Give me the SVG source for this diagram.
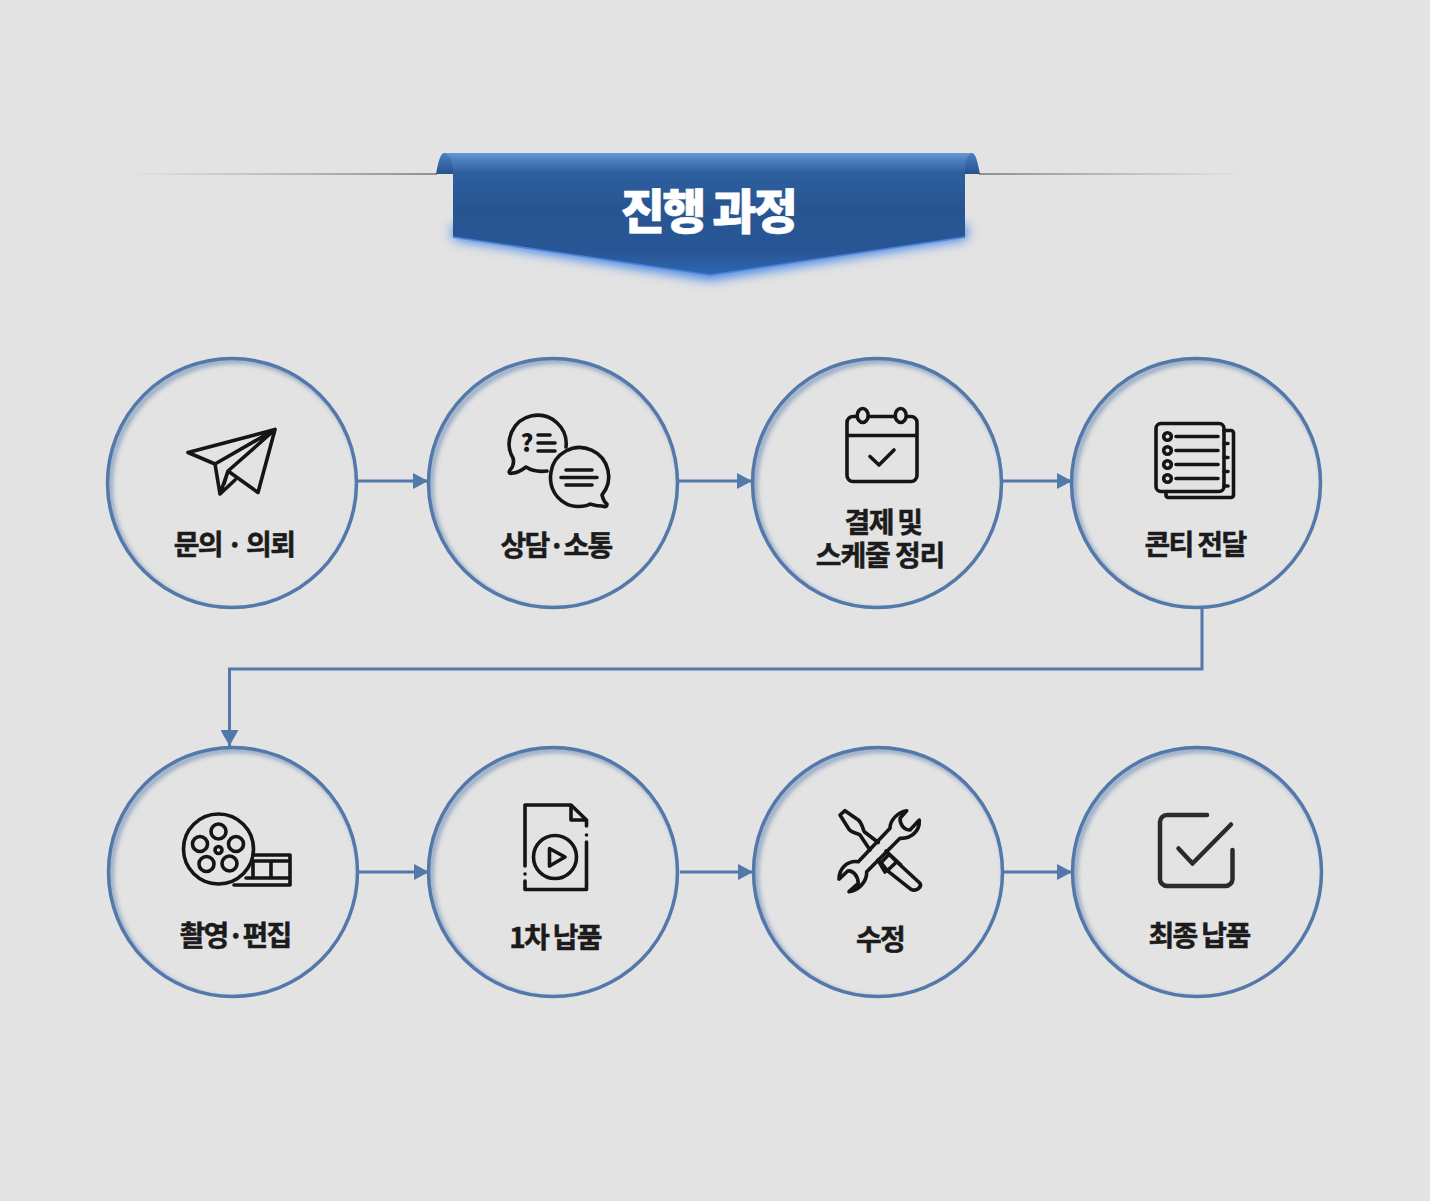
<svg xmlns="http://www.w3.org/2000/svg" width="1430" height="1201" viewBox="0 0 1430 1201">
<style>
.lbl{font-family:"Noto Sans CJK KR","Noto Sans",sans-serif;font-weight:700;font-size:28px;letter-spacing:-1.7px;fill:#1b1b1b;stroke:#1b1b1b;stroke-width:.5px;text-anchor:middle}
.ring{fill:none;stroke:#5378aa;stroke-width:3.5}
.glow{fill:none;stroke:#5378aa;stroke-width:4;filter:url(#b4);opacity:.75}
.ic{fill:none;stroke:#151515;stroke-width:3.6;stroke-linecap:round;stroke-linejoin:round}
.cn{fill:none;stroke:#5378aa;stroke-width:3}
</style>
<defs>
<filter id="b4" x="-20%" y="-20%" width="140%" height="140%"><feGaussianBlur stdDeviation="2.5"/></filter>
<filter id="b8" x="-20%" y="-50%" width="140%" height="200%"><feGaussianBlur stdDeviation="6"/></filter>
<marker id="ar" markerUnits="userSpaceOnUse" markerWidth="16" markerHeight="18" refX="15" refY="8" orient="auto"><path d="M0 0L15 8L0 16Z" fill="#5378aa"/></marker>
<marker id="ard" markerUnits="userSpaceOnUse" markerWidth="20" markerHeight="18" refX="16" refY="9" orient="auto"><path d="M0 0L16 9L0 18Z" fill="#5378aa"/></marker>
<linearGradient id="ll" x1="0" x2="1" y1="0" y2="0"><stop offset="0" stop-color="#9a9a9a" stop-opacity="0"/><stop offset="1" stop-color="#8f8f8f"/></linearGradient>
<linearGradient id="lr" x1="1" x2="0" y1="0" y2="0"><stop offset="0" stop-color="#9a9a9a" stop-opacity="0"/><stop offset="1" stop-color="#8f8f8f"/></linearGradient>
<linearGradient id="rib" x1="0" x2="0" y1="153" y2="276" gradientUnits="userSpaceOnUse"><stop offset="0" stop-color="#6a98d6"/><stop offset=".05" stop-color="#4f82c4"/><stop offset=".16" stop-color="#2d5f9e"/><stop offset=".45" stop-color="#285592"/><stop offset=".8" stop-color="#285694"/><stop offset="1" stop-color="#2f68b4"/></linearGradient>
<linearGradient id="curl" x1="0" x2="0" y1="153" y2="175" gradientUnits="userSpaceOnUse"><stop offset="0" stop-color="#4a80c4"/><stop offset="1" stop-color="#24508c"/></linearGradient>
<clipPath id="c1"><circle cx="232" cy="483" r="124"/></clipPath>
<clipPath id="c2"><circle cx="553" cy="483" r="124"/></clipPath>
<clipPath id="c3"><circle cx="877" cy="483" r="124"/></clipPath>
<clipPath id="c4"><circle cx="1196" cy="483" r="124"/></clipPath>
<clipPath id="c5"><circle cx="233" cy="872" r="124"/></clipPath>
<clipPath id="c6"><circle cx="553" cy="872" r="124"/></clipPath>
<clipPath id="c7"><circle cx="878" cy="872" r="124"/></clipPath>
<clipPath id="c8"><circle cx="1197" cy="872" r="124"/></clipPath>
</defs>
<rect width="1430" height="1201" fill="#e3e3e3"/>

<g id="title">
<rect x="125" y="173" width="312" height="2" fill="url(#ll)"/>
<rect x="979" y="173" width="266" height="2" fill="url(#lr)"/>
<path d="M436 174C438 164 440 153 444 153L456 153V174Z" fill="url(#curl)"/>
<path d="M980 174C978 164 976 153 972 153L960 153V174Z" fill="url(#curl)"/>
<path d="M453 239L710 280L967 239V225H453Z" fill="#3f82e8" filter="url(#b8)"/>
<path d="M968 170V238" stroke="#8a9ab0" stroke-width="4" filter="url(#b4)" opacity=".4"/>
<path d="M444 153H972C967 155 965 160 965 170V237L710 275L453 237V170C453 160 449 155 444 153Z" fill="url(#rib)"/>
<path d="M453 237L710 275L965 237" fill="none" stroke="#4a82d6" stroke-width="1.500"/>
<text x="708" y="229" text-anchor="middle" style="font-family:'Noto Sans CJK KR','Noto Sans',sans-serif;font-weight:900;font-size:48px;letter-spacing:-2.6px;fill:#fff;stroke:#fff;stroke-width:.6px">진행 과정</text>
</g>

<g id="connectors">
<path class="cn" d="M358 481H428" marker-end="url(#ar)"/>
<path class="cn" d="M679 481H752" marker-end="url(#ar)"/>
<path class="cn" d="M1003 481H1072" marker-end="url(#ar)"/>
<path class="cn" d="M1202 607V669H229.500V746" marker-end="url(#ard)"/>
<path class="cn" d="M359 872H429" marker-end="url(#ar)"/>
<path class="cn" d="M680 872H753" marker-end="url(#ar)"/>
<path class="cn" d="M1004 872H1072" marker-end="url(#ar)"/>
</g>

<g id="node1">
<g clip-path="url(#c1)"><circle class="glow" cx="235" cy="486" r="125"/></g>
<circle class="ring" cx="232" cy="483" r="124.500"/>
<path class="ic" d="M275 429.500L188 452.500L215 464L220 494L235 480M275 429.500L258 492.500L228 471M275 429.500L215 464M275 429.500L228 471L224 484M228 471L220 494"/>
<text class="lbl" x="234" y="555">문의 · 의뢰</text>
</g>

<g id="node2">
<g clip-path="url(#c2)"><circle class="glow" cx="556" cy="486" r="125"/></g>
<circle class="ring" cx="553" cy="483" r="124.500"/>
<path class="ic" d="M566 447A28.500 28.500 0 1 0 513 458C514 462 514 466 510 470C508 473 510 474 513 473C518 473 522 470 526 467C532 471 539 472 547 471"/>
<path class="ic" d="M590 504C585 507 573 508 565 503C553 496 549 484 551 472A29 29 0 1 1 602 495C603 499 604 502 607 504C607 507 605 507 602 506C597 506 594 505 590 504Z"/>
<path class="ic" d="M538 435H550M538 443H555M538 451H555M566 470H592M561 477.500H597M566 485H592"/>
<text x="527" y="452" style="font-family:'Noto Sans CJK KR',sans-serif;font-weight:900;font-size:24px;fill:#151515" text-anchor="middle">?</text>
<text class="lbl" x="556" y="556">상담·소통</text>
</g>

<g id="node3">
<g clip-path="url(#c3)"><circle class="glow" cx="880" cy="486" r="125"/></g>
<circle class="ring" cx="877" cy="483" r="124.500"/>
<path class="ic" d="M856 416.500H853A6 6 0 0 0 847 422.500V475.500A6 6 0 0 0 853 481.500H911A6 6 0 0 0 917 475.500V422.500A6 6 0 0 0 911 416.500H908M869 416.500H894M847 435.500H917M870 456.500L879 465L894 450"/>
<ellipse class="ic" cx="862.700" cy="415.500" rx="5.500" ry="7"/>
<ellipse class="ic" cx="900.700" cy="415.500" rx="5.500" ry="7"/>
<text class="lbl" x="883" y="533">결제 및</text>
<text class="lbl" x="880" y="566" style="letter-spacing:-1.100px">스케줄 정리</text>
</g>

<g id="node4">
<g clip-path="url(#c4)"><circle class="glow" cx="1199" cy="486" r="125"/></g>
<circle class="ring" cx="1196" cy="483" r="124.500"/>
<rect class="ic" x="1156" y="423.500" width="68" height="68" rx="5"/>
<path class="ic" d="M1224 430.500H1231A2.500 2.500 0 0 1 1233.500 433V495A2.500 2.500 0 0 1 1231 497.500H1168A2.500 2.500 0 0 1 1166 495V491.500M1224 443.500H1228M1224 457.500H1228M1224 471.500H1228M1224 486H1228M1176 436.500H1218M1176 450.500H1218M1176 464.500H1218M1176 478.500H1218"/>
<circle class="ic" cx="1167.500" cy="436.500" r="3.800"/><circle class="ic" cx="1167.500" cy="450.500" r="3.800"/><circle class="ic" cx="1167.500" cy="464.500" r="3.800"/><circle class="ic" cx="1167.500" cy="478.500" r="3.800"/>
<text class="lbl" x="1195" y="555">콘티 전달</text>
</g>

<g id="node5">
<g clip-path="url(#c5)"><circle class="glow" cx="236" cy="875" r="125"/></g>
<circle class="ring" cx="233" cy="872" r="124.500"/>
<circle class="ic" cx="218.500" cy="849" r="35"/>
<circle class="ic" cx="218.500" cy="831.500" r="7.500"/><circle class="ic" cx="236" cy="844" r="7.500"/><circle class="ic" cx="229.500" cy="863.500" r="7.500"/><circle class="ic" cx="206.500" cy="864" r="7.500"/><circle class="ic" cx="200" cy="844" r="7.500"/><circle class="ic" cx="218.500" cy="850" r="3.500"/>
<path class="ic" d="M253 855H290V885H234M253 861H290M246 878H290M253 861V878M271 861V878"/>
<text class="lbl" x="235" y="946">촬영·편집</text>
</g>

<g id="node6">
<g clip-path="url(#c6)"><circle class="glow" cx="556" cy="875" r="125"/></g>
<circle class="ring" cx="553" cy="872" r="124.500"/>
<path class="ic" d="M525 866V805H571L586.500 820V826M586.500 842V889.500H525V881M571 805V820H586.500" stroke-linecap="butt"/>
<circle cx="586.500" cy="835" r="1.800" fill="#151515"/><circle cx="525" cy="874" r="1.800" fill="#151515"/>
<circle class="ic" cx="555" cy="857" r="21.500"/>
<path class="ic" d="M549.500 848.500L565 857L549.500 866Z"/>
<text class="lbl" x="555" y="948">1차 납품</text>
</g>

<g id="node7">
<g clip-path="url(#c7)"><circle class="glow" cx="881" cy="875" r="125"/></g>
<circle class="ring" cx="878" cy="872" r="124.500"/>
<path class="ic" d="M906.700 810.700C898 812 890 820 890 828.300L858.300 861.700C848 860 839 868 839 879.300L847.700 871C853 870 858 876 858.300 883.300L849 891.700C858 891 867 882 866.700 871.700L900 838.300C910 839 920 832 919.300 820L910 830C904 830 900 825 900 818.300Z"/>
<path class="ic" d="M878.300 842.500L864.300 831.700C862 827 862 823 858.300 820L845 810.700L840 815L849 829.300C852 833 857 833 860 835L870 850"/>
<path class="ic" d="M889 854.300L896.700 861.700L887.300 870.700L881 862.700ZM886 851L901 865M878 860L885 872M896.700 861.700L920 883.300C922 887 916 892 911 889.300L887.300 870.700" />
<text class="lbl" x="880" y="950">수정</text>
</g>

<g id="node8">
<g clip-path="url(#c8)"><circle class="glow" cx="1200" cy="875" r="125"/></g>
<circle class="ring" cx="1197" cy="872" r="124.500"/>
<path class="ic" d="M1207 815H1167A7 7 0 0 0 1160 822V879A7 7 0 0 0 1167 886H1225.500A7 7 0 0 0 1232.500 879V850M1178.500 848.500L1192.500 863.500L1231 824.500" style="stroke-width:4.500px;stroke:#2b2b2b"/>
<text class="lbl" x="1199" y="946">최종 납품</text>
</g>
</svg>
